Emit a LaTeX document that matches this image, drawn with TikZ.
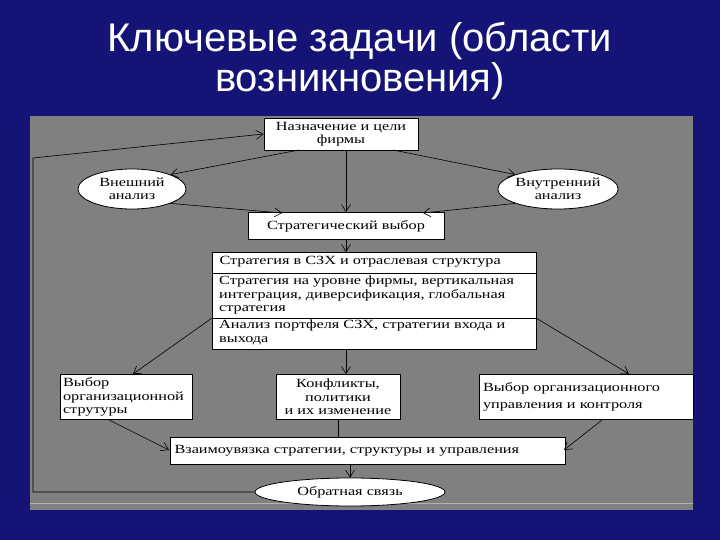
\documentclass[tikz,border=0pt]{standalone}
\usepackage{fontspec}
\setmainfont{Liberation Serif}
\newfontfamily\titlefont{Liberation Sans}
\newfontfamily\dfont[FakeStretch=1.3]{Liberation Serif}
\usetikzlibrary{arrows.meta,shapes.geometric}
\begin{document}
\begin{tikzpicture}[x=1pt,y=-1pt,
  df/.style={font=\dfont\fontsize{12.5}{13.5}\selectfont},
  bx/.style={draw=black,fill=white,line width=0.8pt,inner sep=2pt,df},
  el/.style={draw=black,fill=white,ellipse,line width=0.8pt,inner sep=0pt,df,align=center},
  ar/.style={-{Straight Barb[length=7pt,width=9pt]},line width=0.6pt},
  ln/.style={line width=0.6pt}]
\fill[fill={rgb,255:red,20;green,20;blue,118}] (0,0) rectangle (720,540);
\useasboundingbox (0,0) rectangle (720,540);
\node[text=white,font=\titlefont\fontsize{40}{40}\selectfont,align=center] (title) at (360,61) {Ключевые задачи (области\\возникновения)};
\fill[fill={rgb,255:red,128;green,128;blue,128}] (30,116) rectangle (693,510);
\draw[gray!60,line width=0.6pt] (30,503) -- (693,503);
\node[bx,minimum width=154,minimum height=32,align=center] (goal) at (341,134) {Назначение и цели\\фирмы};
\node[el,minimum width=108,minimum height=40] (ext) at (132,189) {Внешний\\анализ};
\node[el,minimum width=108,minimum height=40] (int) at (558,189) {Внутренний\\анализ};
\node[bx,minimum width=196,minimum height=27] (sel) at (346,226) {Стратегический выбор};
\node[bx,minimum width=324,minimum height=97,anchor=north west] (big) at (212,252) {};
\draw[line width=0.8pt] (212,273) -- (536,273) (212,318) -- (536,318);
\node[anchor=west,df] (t1) at (216,262) {Стратегия в СЗХ и отраслевая структура};
\node[anchor=north west,align=left,df,inner sep=0pt] (t2) at (219,276) {Стратегия на уровне фирмы, вертикальная\\интеграция, диверсификация, глобальная\\стратегия};
\node[anchor=north west,align=left,df,inner sep=0pt] (t3) at (219,320) {Анализ портфеля СЗХ, стратегии входа и\\выхода};
\node[bx,minimum width=132,minimum height=45,text width=126,align=left] (org) at (126,397) {Выбор\\организационной\\струтуры};
\node[bx,minimum width=124,minimum height=45,align=center] (conf) at (338,397) {Конфликты,\\политики\\и их изменение};
\node[bx,minimum width=214,minimum height=45,text width=206,align=left] (ctrl) at (586,397) {Выбор организационного\\[3pt]управления и контроля};
\node[bx,minimum width=395,minimum height=27,text width=387,align=left] (link) at (368,451) {Взаимоувязка стратегии, структуры и управления};
\node[el,minimum width=190,minimum height=28] (fb) at (350,492) {Обратная связь};
\coordinate (c1) at (33,492);
\coordinate (c2) at (33,158);
\draw[ar] (299,150) -- (ext.north east);
\draw[ar] (goal.south -| sel.north) -- (sel.north);
\draw[ar] (393,150) -- (int.north west);
\draw[ar] (ext.south east) -- (282,213);
\draw[ar] (int.south west) -- (423,213);
\draw[ar] (sel.south) -- (sel.south |- big.north);
\draw[ar] (212,318) -- (133,374);
\draw[ar] (536,318) -- (629,374);
\draw[ar] (big.south -| sel.south) -- (conf.north -| sel.south);
\draw[ln] (conf.south) -- (conf.south |- link.north);
\draw[ar] (109,420) -- (169,450);
\draw[ar] (602,420) -- (564,450);
\draw[ar] (link.south -| fb.north) -- (fb.north);
\draw[ar] (fb.west) -- (c1) -- (c2) -- (goal.west);
\end{tikzpicture}
\end{document}
